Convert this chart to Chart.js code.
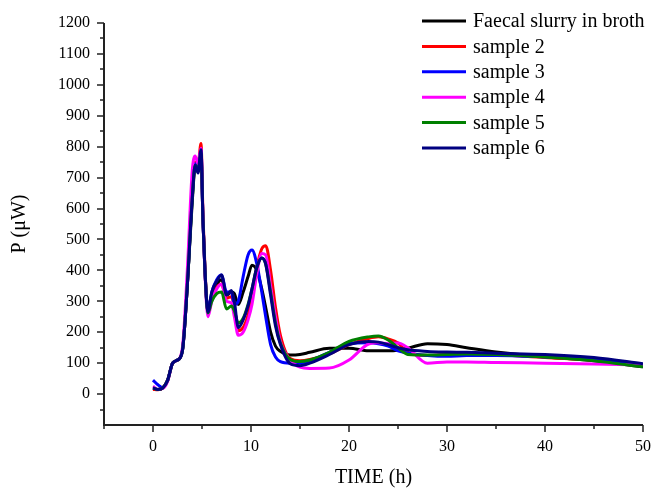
<!DOCTYPE html>
<html>
<head>
<meta charset="utf-8">
<script src="https://cdn.jsdelivr.net/npm/chart.js@4.4.1/dist/chart.umd.min.js"></script>
<style>
  html, body { margin: 0; padding: 0; background: #fff; }
  #wrap { width: 653px; height: 488px; }
</style>
</head>
<body>
<div id="wrap"><canvas id="chart" width="653" height="488"></canvas></div>
<script>
// time (h) sample points, shared by every series
const times = [0, 0.5, 1, 1.5, 2, 2.5, 3, 3.5, 4, 4.3, 4.6, 4.9, 5.1, 5.3, 5.6, 6, 6.5, 7, 7.5, 8,
  8.3, 8.7, 9.2, 9.7, 10.1, 10.6, 11.1, 11.5, 12, 12.5, 13, 14, 15, 16, 18, 20, 22, 23, 24, 25,
  26, 28, 30, 32, 35, 40, 45, 50]

// P (uW)
const faecal = [18, 15, 20, 45, 100, 110, 140, 350, 620, 730, 720, 770, 560, 400, 275, 320, 355, 370, 320, 330,
  325, 290, 330, 380, 417, 400, 340, 280, 200, 155, 138, 126, 128, 135, 148, 148, 140, 140, 140, 142,
  148, 163, 160, 150, 136, 120, 108, 88]
const sample2 = [15, 14, 20, 45, 100, 110, 140, 350, 650, 750, 745, 810, 580, 410, 265, 310, 345, 355, 310, 315,
  280, 205, 215, 255, 310, 410, 470, 480, 400, 280, 190, 115, 108, 112, 130, 160, 180, 185, 178, 165,
  135, 125, 128, 130, 128, 118, 110, 92]
const sample3 = [45, 30, 20, 45, 100, 110, 140, 350, 640, 745, 735, 790, 560, 400, 270, 330, 370, 385, 330, 330,
  290, 300, 380, 450, 466, 420, 330, 250, 160, 120, 105, 100, 100, 108, 135, 163, 166, 163, 155, 140,
  133, 125, 122, 125, 125, 120, 112, 95]
const sample4 = [25, 15, 18, 42, 100, 110, 150, 400, 720, 770, 745, 795, 560, 390, 250, 300, 340, 355, 300, 295,
  250, 190, 200, 240, 290, 390, 455, 450, 350, 250, 170, 110, 87, 83, 84, 110, 162, 166, 163, 165,
  150, 100, 104, 104, 102, 100, 97, 94]
const sample5 = [20, 15, 20, 45, 100, 110, 140, 350, 630, 740, 725, 780, 560, 400, 262, 300, 325, 330, 275, 285,
  270, 230, 245, 290, 340, 410, 440, 420, 330, 230, 165, 112, 105, 110, 135, 170, 185, 188, 175, 150,
  128, 126, 128, 130, 128, 120, 108, 88]
const sample6 = [20, 15, 20, 45, 100, 110, 140, 350, 630, 740, 715, 790, 560, 400, 265, 330, 365, 385, 320, 335,
  300, 215, 240, 285, 340, 410, 440, 420, 320, 220, 160, 98, 92, 100, 128, 160, 170, 168, 160, 150,
  143, 138, 136, 135, 132, 128, 118, 98]

const seriesNames = ['Faecal slurry in broth', 'sample 2', 'sample 3', 'sample 4', 'sample 5', 'sample 6']
const seriesColors = ['#000000', '#ff0000', '#0000ff', '#ff00ff', '#008000', '#000080']
const seriesValues = [faecal, sample2, sample3, sample4, sample5, sample6]

const xMajorTicks = [0, 10, 20, 30, 40, 50]
const xMinorTicks = [-5, 5, 15, 25, 35, 45]
const yMajorTicks = [0, 100, 200, 300, 400, 500, 600, 700, 800, 900, 1000, 1100, 1200]
const yMinorTicks = [-50, 50, 150, 250, 350, 450, 550, 650, 750, 850, 950, 1050, 1150]

const FONT = "'Liberation Serif', 'Times New Roman', serif"

// axis lines, tick marks, axis titles and legend
const frame = {
  id: 'frame',
  afterDraw(chart) {
    const { ctx, chartArea: a, scales: { x, y } } = chart
    ctx.save()
    ctx.strokeStyle = '#222'
    ctx.lineWidth = 2
    ctx.beginPath()
    ctx.moveTo(a.left, y.getPixelForValue(1200))
    ctx.lineTo(a.left, a.bottom)
    ctx.lineTo(x.getPixelForValue(50), a.bottom)
    ctx.stroke()

    ctx.lineWidth = 1.5
    ctx.beginPath()
    yMajorTicks.forEach(v => { const p = Math.round(y.getPixelForValue(v)); ctx.moveTo(a.left - 7, p); ctx.lineTo(a.left, p) })
    yMinorTicks.forEach(v => { const p = Math.round(y.getPixelForValue(v)); ctx.moveTo(a.left - 4, p); ctx.lineTo(a.left, p) })
    xMajorTicks.forEach(v => { const p = Math.round(x.getPixelForValue(v)); ctx.moveTo(p, a.bottom); ctx.lineTo(p, a.bottom + 7) })
    xMinorTicks.forEach(v => { const p = Math.round(x.getPixelForValue(v)); ctx.moveTo(p, a.bottom); ctx.lineTo(p, a.bottom + 4) })
    ctx.stroke()

    // axis titles
    ctx.fillStyle = '#000'
    ctx.font = `20px ${FONT}`
    ctx.textAlign = 'center'
    ctx.textBaseline = 'middle'
    ctx.fillText('TIME (h)', (a.left + a.right) / 2, 478)
    ctx.save()
    ctx.translate(20, (a.top + a.bottom) / 2)
    ctx.rotate(-Math.PI / 2)
    ctx.fillText('P (\u03bcW)', 0, 0)
    ctx.restore()

    // legend
    ctx.font = `20px ${FONT}`
    ctx.textAlign = 'left'
    ctx.lineWidth = 3
    seriesNames.forEach((name, i) => {
      const ly = 21 + i * 25.4
      ctx.strokeStyle = seriesColors[i]
      ctx.beginPath()
      ctx.moveTo(422, ly)
      ctx.lineTo(466, ly)
      ctx.stroke()
      ctx.fillText(name, 473, ly + 1)
    })
    ctx.restore()
  }
}

const datasets = seriesNames.map((name, i) => ({
  label: name,
  data: times.map((t, j) => ({ x: t, y: seriesValues[i][j] })),
  borderColor: seriesColors[i],
  borderWidth: 3,
  pointRadius: 0,
  cubicInterpolationMode: 'monotone',
  order: seriesNames.length - 1 - i,
}))

new Chart(document.getElementById('chart'), {
  type: 'line',
  data: { datasets },
  options: {
    responsive: false,
    animation: false,
    layout: { padding: { top: 23, right: 10, left: 0, bottom: 0 } },
    plugins: { legend: { display: false }, tooltip: { enabled: false } },
    scales: {
      x: {
        type: 'linear',
        min: -5,
        max: 50,
        grid: { display: false, drawTicks: false },
        border: { display: false },
        afterFit: s => { s.height = 63; s.paddingLeft = 0; s.paddingRight = 0 },
        ticks: {
          stepSize: 5,
          autoSkip: false,
          maxRotation: 0,
          padding: 12,
          color: '#000',
          font: { family: FONT, size: 16 },
          callback: v => (v >= 0 && v % 10 === 0 ? String(v) : ''),
        },
      },
      y: {
        min: -100,
        max: 1200,
        grid: { display: false, drawTicks: false },
        border: { display: false },
        afterFit: s => { s.width = 104; s.paddingTop = 0; s.paddingBottom = 0 },
        ticks: {
          stepSize: 50,
          autoSkip: false,
          padding: 14,
          color: '#000',
          font: { family: FONT, size: 16 },
          callback: v => (v >= 0 && v % 100 === 0 ? String(v) : ''),
        },
      },
    },
  },
  plugins: [frame],
})
</script>
</body>
</html>
